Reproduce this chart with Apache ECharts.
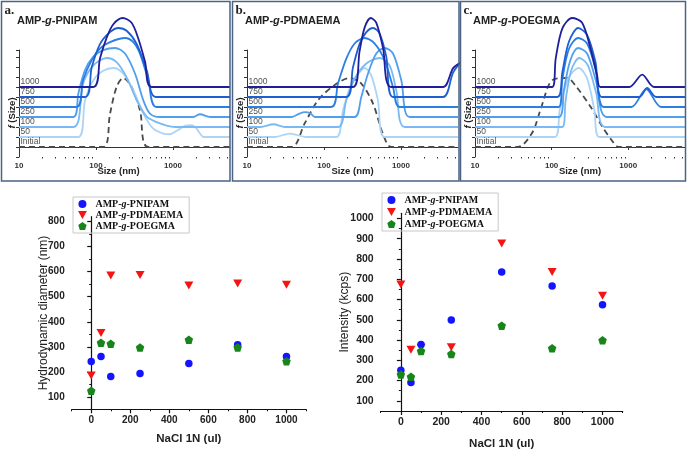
<!DOCTYPE html>
<html>
<head>
<meta charset="utf-8">
<script src="https://cdn.jsdelivr.net/npm/echarts@6.0.0/dist/echarts.min.js"></script>
<style>
    html, body { margin: 0; padding: 0; background: #fff; }
    #chart { width: 687px; height: 451px; }
</style>
</head>
<body>
<div id="chart"></div>
<script>
// DLS panels: curve names top -> bottom, and the vertical offset of each curve
const sampleLabels = ['1000', '750', '500', '250', '100', '50', 'Initial'];
const curveOffsets = [87, 72.5, 58, 43.5, 29, 14.5, 0];
const sizeTicks = [10, 100, 1000];
const minorSizeTicks = [20, 30, 40, 50, 60, 70, 80, 90, 200, 300, 400, 500, 600, 700, 800, 900, 2000, 3000, 4000, 5000];

// size distributions, [size (nm), normalised f(Size) in %], same order as sampleLabels
const pnipamDist = [
    [[10, 0], [92, 0], [113, 42], [138, 72], [168, 91], [222, 100], [290, 93], [355, 70], [433, 37], [528, 0], [5500, 0]],
    [[10, 0], [72, 0], [88, 43], [113, 77], [152, 94], [195, 100], [250, 96], [337, 77], [455, 39], [601, 0], [5500, 0]],
    [[10, 0], [56, 0], [68, 39], [88, 68], [113, 85], [152, 94], [238, 100], [305, 94], [373, 77], [478, 39], [613, 0], [5500, 0]],
    [[10, 0], [51, 0], [59, 34], [72, 68], [92, 87], [124, 97], [177, 100], [238, 92], [321, 63], [412, 24], [502, 5], [678, 0], [1836, 0], [2243, 4], [3027, 0], [5500, 0]],
    [[10, 0], [51, 0], [68, 63], [92, 89], [138, 100], [185, 94], [250, 72], [337, 39], [455, 15], [613, 7], [827, 2], [1060, 0], [5500, 0]],
    [[10, 0], [59, 0], [72, 53], [92, 82], [124, 96], [168, 100], [226, 92], [305, 68], [412, 34], [555, 12], [748, 5], [914, 4], [1117, 9], [1432, 16], [1747, 17], [2028, 12], [2243, 5], [2477, 0], [5500, 0]],
    [[10, 0], [124, 0], [152, 48], [185, 87], [226, 100], [290, 87], [373, 53], [478, 0], [5500, 0]]
];
const pdmaemaDist = [
    [[10, 0], [238, 0], [290, 52], [337, 86], [404, 100], [478, 93], [583, 57], [748, 0], [3510, 0], [4735, 27], [5840, 35]],
    [[10, 0], [195, 0], [238, 43], [290, 77], [355, 94], [433, 100], [528, 92], [645, 58], [787, 0], [3510, 0], [4735, 35], [5840, 49]],
    [[10, 0], [124, 0], [152, 34], [195, 70], [250, 92], [337, 100], [455, 92], [613, 68], [787, 29], [962, 0], [5500, 0]],
    [[10, 0], [38, 0], [48, 5], [57, 7], [67, 5], [76, 0], [250, 0], [305, 29], [373, 63], [478, 92], [613, 100], [787, 92], [1010, 53], [1297, 0], [5500, 0]],
    [[10, 0], [15, 0], [22, 4], [31, 0], [152, 0], [195, 39], [250, 70], [355, 92], [528, 100], [713, 89], [869, 53], [1117, 0], [5500, 0]],
    [[10, 0], [23, 0], [36, 5], [59, 0], [145, 0], [177, 39], [226, 77], [290, 94], [337, 100], [412, 89], [502, 53], [613, 0], [5500, 0]],
    [[10, 0], [38, 0], [56, 34], [84, 68], [138, 90], [215, 100], [305, 92], [433, 63], [583, 19], [748, 0], [5500, 0]]
];
const poegmaDist = [
    [[10, 0], [102, 0], [113, 41], [138, 85], [185, 100], [250, 93], [321, 56], [392, 17], [433, 0], [1030, 0], [1520, 18], [2177, 0], [5500, 0]],
    [[10, 0], [119, 0], [138, 36], [168, 80], [222, 100], [290, 90], [373, 51], [455, 0], [1390, 0], [1766, 13], [2311, 0], [5500, 0]],
    [[10, 0], [124, 0], [138, 40], [168, 84], [222, 100], [290, 92], [373, 55], [478, 0], [1094, 0], [1714, 26], [2685, 0], [5500, 0]],
    [[10, 0], [125, 0], [145, 40], [175, 82], [222, 100], [290, 92], [380, 52], [528, 0], [5500, 0]],
    [[10, 0], [138, 0], [152, 38], [180, 82], [230, 100], [295, 90], [380, 50], [502, 0], [5500, 0]],
    [[10, 0], [110, 0], [128, 40], [165, 85], [226, 100], [290, 85], [360, 40], [420, 0], [5500, 0]],
    [[10, 0], [36, 0], [56, 21], [72, 55], [102, 97], [160, 100], [205, 89], [337, 55], [455, 30], [645, 6], [748, 0], [5500, 0]]
];

// bottom scatter plots
const seriesNames = ['AMP-g-PNIPAM', 'AMP-g-PDMAEMA', 'AMP-g-POEGMA'];
const saltAdded = [0, 50, 100, 250, 500, 750, 1000];
const diamPnipam = [241, 261, 181, 193, 233, 308, 261];
const diamPdmaema = [185, 355, 585, 587, 545, 553, 548];
const diamPoegma = [124, 316, 312, 297, 328, 297, 242];
const intPnipam = [251, 190, 378, 499, 736, 666, 574];
const intPdmaema = [674, 352, 362, 365, 876, 735, 618];
const intPoegma = [230, 219, 346, 331, 471, 359, 399];
const saltTicks = [0, 200, 400, 600, 800, 1000];
const saltMinor = [-100, 100, 300, 500, 700, 900, 1100];
const diamTicks = [100, 200, 300, 400, 500, 600, 700, 800];
const diamMinor = [50, 150, 250, 350, 450, 550, 650, 750];
const intTicks = [100, 200, 300, 400, 500, 600, 700, 800, 900, 1000];
const intMinor = [50, 150, 250, 350, 450, 550, 650, 750, 850, 950];

const curveColors = ['#1f1f9c', '#1d5fd3', '#2a7fe3', '#4f9fee', '#7ab9f3', '#acd4f6', '#4a4a4a'];
const markColors = ['#1414ff', '#f51414', '#17861a'];
const invTriangle = 'path://M0,0 L10,0 L5,9 Z';
const pentagon = 'path://M5,0 L10,3.6 L8.1,9.5 L1.9,9.5 L0,3.6 Z';

const chart = echarts.init(document.getElementById('chart'));

const grid = [], xAxis = [], yAxis = [], series = [], title = [], graphic = [];
const axisColor = '#333';

// top row: three DLS panels
const panels = [
    { dist: pnipamDist, letter: 'a.', tail: 'PNIPAM', left: 19, width: 211, frame: [1.5, 228.5], namePad: [0, 12, 0, 0] },
    { dist: pdmaemaDist, letter: 'b.', tail: 'PDMAEMA', left: 247, width: 211, frame: [232.5, 226.5], namePad: 0 },
    { dist: poegmaDist, letter: 'c.', tail: 'POEGMA', left: 475, width: 210, frame: [460.5, 225], namePad: 0 }
];

panels.forEach((p) => {
    // plotting grid
    const g = grid.length;
    grid.push({ left: p.left, top: 10, width: p.width, height: 147 });
    const xi = xAxis.length;
    xAxis.push({
        gridIndex: g, type: 'log', logBase: 10, min: 10, max: 5500, position: 'bottom',
        axisLine: { lineStyle: { color: axisColor, width: 1 } },
        axisTick: { length: 3, customValues: sizeTicks, lineStyle: { color: axisColor } },
        axisLabel: {
            customValues: sizeTicks, fontSize: 8, fontWeight: 'bold', color: axisColor, margin: 5,
            fontFamily: 'Liberation Sans', formatter: (v) => String(Math.round(v))
        },
        splitLine: { show: false },
        name: 'Size (nm)', nameLocation: 'middle', nameGap: 9, nameMoveOverlap: false,
        nameTextStyle: { fontSize: 9.5, fontWeight: 'bold', color: '#222', fontFamily: 'Liberation Sans', padding: p.namePad }
    });
    xAxis.push({
        gridIndex: g, type: 'log', logBase: 10, min: 10, max: 5500, position: 'bottom',
        axisLine: { show: false }, axisLabel: { show: false }, splitLine: { show: false },
        axisTick: { length: 1.5, customValues: minorSizeTicks, lineStyle: { color: axisColor } }
    });
    const yi = yAxis.length;
    yAxis.push({ gridIndex: g, type: 'value', min: -14.5, max: 198.6, show: false });

    // grid only for the short f(Size) axis
    const t = grid.length;
    grid.push({ left: p.left, top: 50, width: 1, height: 107 });
    xAxis.push({ gridIndex: t, type: 'value', show: false });
    yAxis.push({
        gridIndex: t, type: 'value', min: 0, max: 10.7, interval: 1,
        axisLine: { show: true, lineStyle: { color: axisColor } },
        axisTick: { show: true, length: 3, lineStyle: { color: axisColor } },
        axisLabel: { show: false }, splitLine: { show: false }
    });

    // curves, initial drawn first so 1000 lies on top
    for (let k = sampleLabels.length - 1; k >= 0; k--) {
        series.push({
            type: 'line', xAxisIndex: xi, yAxisIndex: yi, silent: true,
            data: p.dist[k].map((d) => [d[0], curveOffsets[k] + d[1]]),
            smooth: 0.3, symbol: 'none', showSymbol: false,
            lineStyle: { color: curveColors[k], width: 1.8, type: k === 6 ? [6, 4] : 'solid' }
        });
    }
    // curve names next to the axis
    series.push({
        type: 'scatter', xAxisIndex: xi, yAxisIndex: yi, silent: true, z: 5,
        data: sampleLabels.map((s, k) => [10, curveOffsets[k]]),
        symbolSize: 1, itemStyle: { color: 'rgba(0,0,0,0)' },
        label: {
            show: true, position: 'right', distance: 1, verticalAlign: 'bottom', offset: [0, -1],
            formatter: (prm) => sampleLabels[prm.dataIndex],
            fontSize: 8.5, color: '#222', fontFamily: 'Liberation Sans'
        }
    });

    title.push({
        left: p.left - 2, top: 15, padding: 0,
        text: '{n|AMP-}{i|g}{n|-' + p.tail + '}',
        textStyle: {
            rich: {
                n: { fontSize: 11, fontWeight: 'bold', color: '#222', fontFamily: 'Liberation Sans' },
                i: { fontSize: 11, fontWeight: 'bold', fontStyle: 'italic', color: '#222', fontFamily: 'Liberation Sans' }
            }
        }
    });
    graphic.push({
        type: 'rect', silent: true, z: 100,
        shape: { x: p.frame[0], y: 1.5, width: p.frame[1], height: 179.5 },
        style: { fill: 'none', stroke: '#4b6384', lineWidth: 1.5 }
    });
    graphic.push({
        type: 'text', silent: true, x: p.frame[0] + 3, y: 4,
        style: { text: p.letter, fontSize: 13, fontWeight: 'bold', fontFamily: 'Liberation Serif', fill: '#222' }
    });
    graphic.push({
        type: 'text', silent: true, x: p.left - 7, y: 113, rotation: Math.PI / 2,
        style: {
            text: '{i|f} (Size)', align: 'center', verticalAlign: 'middle',
            fontSize: 9.5, fontWeight: 'bold', fontFamily: 'Liberation Sans', fill: '#222',
            rich: { i: { fontStyle: 'italic', fontSize: 9.5, fontWeight: 'bold', fontFamily: 'Liberation Sans', fill: '#222' } }
        }
    });
});

// bottom row: two scatter plots
const scatterPlots = [
    { box: { left: 71.7, top: 216.7, width: 234.3, height: 192.6 }, yMin: 50, yMax: 820, yTicks: diamTicks, yMinor: diamMinor,
      yName: 'Hydrodynamic diameter (nm)', yGap: 22, xGap: 24, vals: [diamPnipam, diamPdmaema, diamPoegma], fs: 10 },
    { box: { left: 380.7, top: 213.3, width: 242, height: 198.4 }, yMin: 50, yMax: 1025, yTicks: intTicks, yMinor: intMinor,
      yName: 'Intensity (kcps)', yGap: 30, xGap: 27, vals: [intPnipam, intPdmaema, intPoegma], fs: 10.5 }
];
const labelFont = { fontWeight: 'bold', color: '#222', fontFamily: 'Liberation Sans' };

scatterPlots.forEach((sp) => {
    const g = grid.length;
    grid.push(sp.box);
    const xi = xAxis.length;
    xAxis.push({
        gridIndex: g, type: 'value', min: -100, max: 1100, position: 'bottom',
        axisLine: { lineStyle: { color: '#111', width: 1.2 } },
        axisTick: { length: 4, customValues: saltTicks, lineStyle: { color: '#111', width: 1.2 } },
        axisLabel: { customValues: saltTicks, margin: 6, fontSize: sp.fs, ...labelFont, formatter: (v) => String(v) },
        splitLine: { show: false },
        name: 'NaCl 1N (ul)', nameLocation: 'middle', nameGap: sp.xGap, nameMoveOverlap: false,
        nameTextStyle: { fontSize: 11.5, ...labelFont }
    });
    xAxis.push({
        gridIndex: g, type: 'value', min: -100, max: 1100, position: 'bottom',
        axisLine: { show: false }, axisLabel: { show: false }, splitLine: { show: false },
        axisTick: { length: 2, customValues: saltMinor, lineStyle: { color: '#111' } }
    });
    const yi = yAxis.length;
    yAxis.push({
        gridIndex: g, type: 'value', min: sp.yMin, max: sp.yMax, position: 'left',
        axisLine: { show: true, lineStyle: { color: '#111', width: 1.2 } },
        axisTick: { show: true, length: 4, customValues: sp.yTicks, lineStyle: { color: '#111', width: 1.2 } },
        axisLabel: { customValues: sp.yTicks, margin: 7, fontSize: sp.fs, ...labelFont, formatter: (v) => String(v) },
        splitLine: { show: false },
        name: sp.yName, nameLocation: 'middle', nameGap: sp.yGap, nameMoveOverlap: false,
        nameTextStyle: { fontSize: 12, color: '#222', fontFamily: 'Liberation Sans' }
    });
    yAxis.push({
        gridIndex: g, type: 'value', min: sp.yMin, max: sp.yMax, position: 'left',
        axisLine: { show: false }, axisLabel: { show: false }, splitLine: { show: false },
        axisTick: { show: true, length: 2, customValues: sp.yMinor, lineStyle: { color: '#111' } }
    });

    const symbols = ['circle', invTriangle, pentagon];
    const sizes = [7.5, [9, 8], 8.5];
    const zs = [3, 2, 4];
    seriesNames.forEach((name, s) => {
        series.push({
            name, type: 'scatter', xAxisIndex: xi, yAxisIndex: yi, z: zs[s],
            data: saltAdded.map((x, i) => [x, sp.vals[s][i]]),
            symbol: symbols[s], symbolSize: sizes[s],
            itemStyle: { color: markColors[s], opacity: 1 }
        });
    });
});

const legendRich = {
    n: { fontSize: 10, fontWeight: 'bold', fontFamily: 'Liberation Serif', color: '#111' },
    i: { fontSize: 10, fontWeight: 'bold', fontStyle: 'italic', fontFamily: 'Liberation Serif', color: '#111' }
};
const legendBase = {
    data: seriesNames, orient: 'vertical', selectedMode: false,
    itemWidth: 16, itemHeight: 8, borderColor: '#c8c8c8', borderWidth: 1,
    formatter: (name) => '{n|AMP-}{i|g}{n|-' + name.slice(6) + '}',
    textStyle: { rich: legendRich }
};

const option = {
    animation: false,
    backgroundColor: '#fff',
    title,
    grid,
    xAxis,
    yAxis,
    series,
    graphic,
    legend: [
        { ...legendBase, left: 73, top: 197, itemGap: 1, padding: [2, 6, 2, 5] },
        { ...legendBase, left: 382, top: 193, itemGap: 2, padding: [2, 6, 2, 5] }
    ]
};

chart.setOption(option);
window.addEventListener('resize', () => chart.resize());
</script>
</body>
</html>
